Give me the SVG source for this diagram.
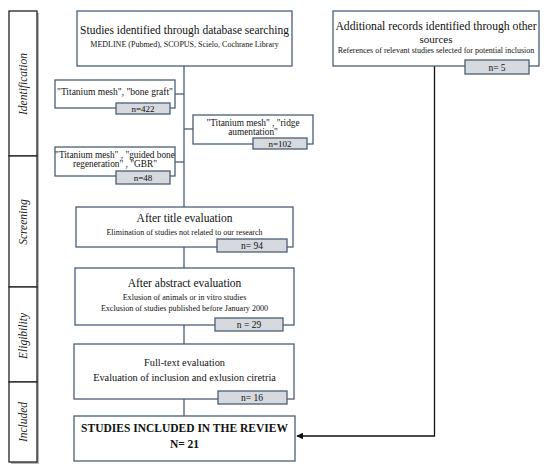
<svg xmlns="http://www.w3.org/2000/svg" width="550" height="472" viewBox="0 0 550 472">
<defs>
<style>
.box{fill:#fff;stroke:#4a5e75;stroke-width:1.3}
.badge{fill:#d6d9dd;stroke:#4a5e75;stroke-width:1.3}
.phase{fill:#fff;stroke:#222;stroke-width:1.3}
.shadow{fill:#b8b8b8}
.t{font-family:"Liberation Serif","Times New Roman",serif;fill:#111;text-anchor:middle}
.ph{font-family:"Liberation Serif","Times New Roman",serif;font-style:italic;font-size:11.5px;fill:#222;text-anchor:middle}
.line{fill:none;stroke:#4a5e75;stroke-width:1.3}
.arr{fill:none;stroke:#111;stroke-width:1.3}
</style>
<marker id="ah" viewBox="0 0 10 10" refX="9" refY="5" markerWidth="7" markerHeight="7" orient="auto-start-reverse" markerUnits="userSpaceOnUse">
<path d="M0,0 L10,5 L0,10 z" fill="#111"/>
</marker>
</defs>
<rect width="550" height="472" fill="#fff"/>

<g id="phases">
<g id="phase-identification">
<rect class="shadow" x="11" y="13" width="28" height="145"/>
<rect class="phase" x="9" y="11" width="28" height="145"/>
<text class="ph" transform="translate(27,84) rotate(-90)">Identification</text>
</g>
<g id="phase-screening">
<rect class="shadow" x="11" y="158" width="28" height="131"/>
<rect class="phase" x="9" y="156" width="28" height="131"/>
<text class="ph" transform="translate(27,222) rotate(-90)">Screening</text>
</g>
<g id="phase-eligibility">
<rect class="shadow" x="11" y="289" width="28" height="95"/>
<rect class="phase" x="9" y="287" width="28" height="95"/>
<text class="ph" transform="translate(27,336) rotate(-90)">Eligibility</text>
</g>
<g id="phase-included">
<rect class="shadow" x="11" y="384" width="28" height="80"/>
<rect class="phase" x="9" y="382" width="28" height="80"/>
<text class="ph" transform="translate(27,422) rotate(-90)">Included</text>
</g>
</g>

<g id="connectors">
<path class="line" d="M184,66 V207"/>
<path class="line" d="M175,94 H184"/>
<path class="line" d="M184,129 H193"/>
<path class="line" d="M175,162 H184"/>
<path class="line" d="M184,247 V268"/>
<path class="line" d="M184,325 V344"/>
<path class="line" d="M184,399 V416"/>
<path class="arr" d="M434.5,66 V436 H297" marker-end="url(#ah)"/>
</g>

<g id="database">
<rect class="box" x="77" y="11" width="215" height="55"/>
<text class="t" x="184.5" y="34" font-size="11.5">Studies identified through database searching</text>
<text class="t" x="184.5" y="47" font-size="8">MEDLINE (Pubmed), SCOPUS, Scielo, Cochrane Library</text>
</g>

<g id="additional">
<rect class="box" x="333" y="11" width="206" height="55"/>
<text class="t" x="436" y="29.5" font-size="11.7">Additional records identified through other</text>
<text class="t" x="436" y="43" font-size="11">sources</text>
<text class="t" x="436" y="53" font-size="8">References of relevant studies selected for potential inclusion</text>
<rect class="badge" x="465" y="60" width="64" height="14"/>
<text class="t" x="497" y="71" font-size="9.5">n= 5</text>
</g>

<g id="bone-graft">
<rect class="box" x="55" y="80" width="120" height="28"/>
<text class="t" x="115" y="95" font-size="9.5">"Titanium mesh", "bone graft"</text>
<rect class="badge" x="116" y="103" width="54" height="11"/>
<text class="t" x="143" y="112" font-size="9">n=422</text>
</g>

<g id="ridge">
<rect class="box" x="193" y="115" width="120" height="29"/>
<text class="t" x="253" y="126" font-size="9.3">"Titanium mesh" , "ridge</text>
<text class="t" x="253" y="135" font-size="9.3">aumentation"</text>
<rect class="badge" x="253" y="138" width="54" height="11"/>
<text class="t" x="280" y="147" font-size="9">n=102</text>
</g>

<g id="gbr">
<rect class="box" x="55" y="147" width="120" height="29"/>
<text class="t" x="115" y="158" font-size="9.3">"Titanium mesh" , "guided bone</text>
<text class="t" x="115" y="167" font-size="9.3">regeneration" , "GBR"</text>
<rect class="badge" x="116" y="171" width="54" height="13"/>
<text class="t" x="143" y="181" font-size="9">n=48</text>
</g>

<g id="title-eval">
<rect class="box" x="76" y="207" width="217" height="40"/>
<text class="t" x="184.5" y="222" font-size="11.5">After title evaluation</text>
<text class="t" x="184.5" y="235" font-size="8">Elimination of studies not related to our research</text>
<rect class="badge" x="217" y="239" width="70" height="13"/>
<text class="t" x="252" y="249" font-size="9.5">n= 94</text>
</g>

<g id="abstract-eval">
<rect class="box" x="75" y="268" width="219" height="57"/>
<text class="t" x="184.5" y="287" font-size="11.5">After abstract evaluation</text>
<text class="t" x="184.5" y="300" font-size="8.1">Exlusion of animals or in vitro studies</text>
<text class="t" x="184.5" y="311" font-size="8.1">Exclusion of studies published before January 2000</text>
<rect class="badge" x="215" y="318" width="68" height="13"/>
<text class="t" x="249" y="328" font-size="9.5">n = 29</text>
</g>

<g id="fulltext-eval">
<rect class="box" x="74" y="344" width="220" height="55"/>
<text class="t" x="184.5" y="366" font-size="10.3">Full-text evaluation</text>
<text class="t" x="184.5" y="381" font-size="10.3">Evaluation of inclusion and exlusion ciretria</text>
<rect class="badge" x="218" y="391" width="69" height="13"/>
<text class="t" x="252" y="401" font-size="9.5">n= 16</text>
</g>

<g id="included">
<rect class="box" x="74" y="416" width="221" height="45"/>
<text class="t" x="184.5" y="432" font-size="11.5" font-weight="bold">STUDIES INCLUDED IN THE REVIEW</text>
<text class="t" x="184.5" y="448" font-size="11.5" font-weight="bold">N= 21</text>
</g>
</svg>
